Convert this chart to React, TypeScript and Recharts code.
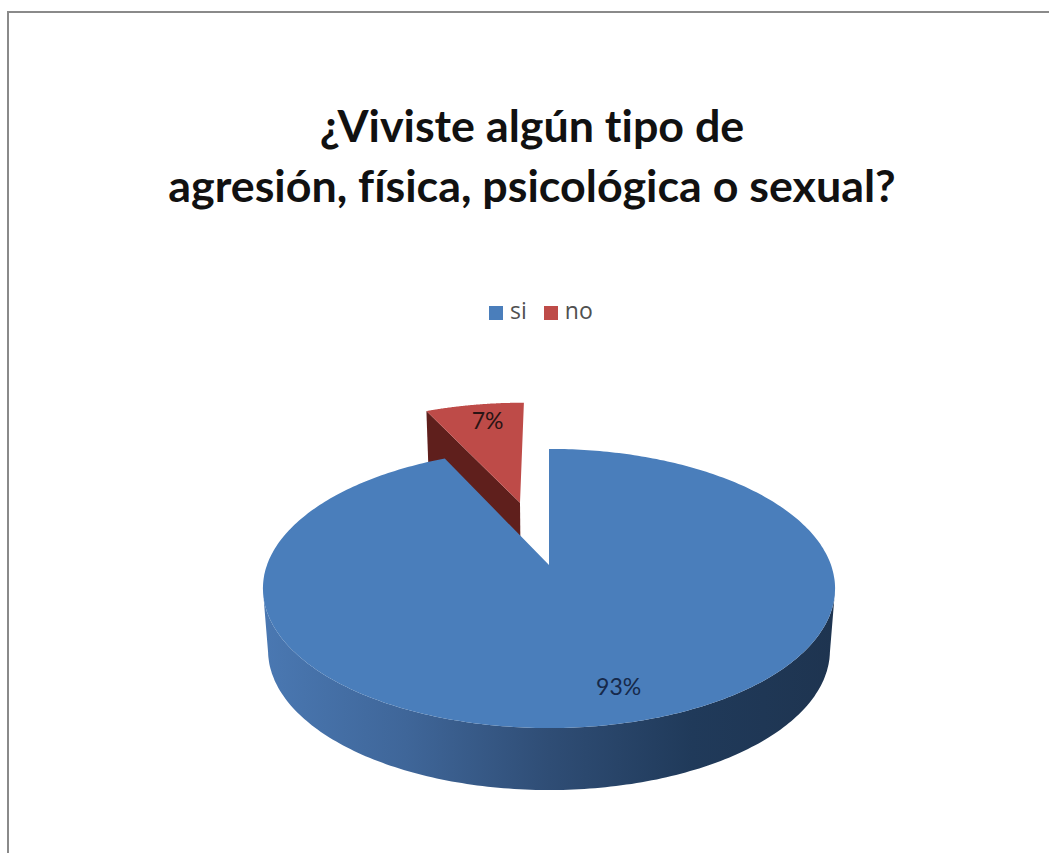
import { Cell, Legend, Pie, PieChart } from "recharts";

const categories = ["si", "no"];
const shares = [93, 7];
const colors = ["#4a7ebb", "#be4b48"];
const titleLines = ["¿Viviste algún tipo de", "agresión, física, psicológica o sexual?"];

// "no" goes first so that the big slice paints over its side wall
const pieData = [
  { name: categories[1], value: shares[1], fill: colors[1] },
  { name: categories[0], value: shares[0], fill: colors[0] },
];
const startAngle = 90 + (360 * shares[1]) / (shares[0] + shares[1]);

// perspective of the tilted disc
const TILT = 0.481;
const DEPTH = 0.168;
const THICKNESS = 62;
const BOTTOM_SCALE = 0.982;
const EXPLODE_NO = 0.51;
const RAD = Math.PI / 180;

type Pt = { x: number; y: number };

function project(cx: number, cy: number, r: number, u: number, v: number): Pt {
  const d = 1 + DEPTH * v;
  return { x: cx + (r * u) / d, y: cy - (r * TILT * v) / d };
}

function slicePoint(props: any, angle: number, f: number) {
  const { cx, cy, outerRadius, midAngle, name } = props;
  const e = name === categories[1] ? EXPLODE_NO : 0;
  const u = e * Math.cos(midAngle * RAD) + f * Math.cos(angle * RAD);
  const v = e * Math.sin(midAngle * RAD) + f * Math.sin(angle * RAD);
  return project(cx, cy, outerRadius, u, v);
}

function lower(p: Pt, cx: number): Pt {
  return { x: cx + (p.x - cx) * BOTTOM_SCALE, y: p.y + THICKNESS };
}

const toPath = (pts: Pt[]) =>
  pts.map((p, i) => `${i ? "L" : "M"}${p.x.toFixed(1)} ${p.y.toFixed(1)}`).join(" ") + " Z";

function DiscSlice(props: any) {
  const { startAngle: a0, endAngle: a1, fill, name, cx } = props;
  const arc: Pt[] = [];
  const front: Pt[] = [];
  for (let i = 0; i <= 360; i++) {
    const a = a0 + ((a1 - a0) * i) / 360;
    const p = slicePoint(props, a, 1);
    arc.push(p);
    // only the part of the rim that faces the viewer
    if (Math.sin(a * RAD) < -DEPTH) front.push(p);
  }
  const apex = slicePoint(props, a0, 0);
  const isNo = name === categories[1];
  // red slice shows its cut side, blue one shows the rim
  const wall = isNo
    ? [apex, arc[0], lower(arc[0], cx), lower(apex, cx)]
    : [...front, ...front.map((p) => lower(p, cx)).reverse()];
  return (
    <g>
      <path d={toPath(wall)} fill={isNo ? "#5f1f1c" : "url(#rimBlue)"} />
      <path d={toPath([apex, ...arc])} fill={fill} />
    </g>
  );
}

function percentLabel(props: any) {
  const { name, midAngle, value } = props;
  const isNo = name === categories[1];
  const p = slicePoint(props, midAngle, isNo ? 0.85 : 0.8);
  return (
    <text
      x={p.x + (isNo ? 7 : 13)}
      y={p.y + (isNo ? 2 : -1)}
      textAnchor="middle"
      dominantBaseline="central"
      fontFamily="Lato"
      fontSize={23}
      fill={isNo ? "#2a1414" : "#16294a"}
    >
      {value}%
    </text>
  );
}

export default function App() {
  return (
    <div style={{ position: "absolute", left: 0, top: 0, width: 1049, height: 853, overflow: "hidden", background: "#fff" }}>
      <div
        style={{
          position: "absolute",
          left: 7,
          top: 11,
          right: 0,
          bottom: 0,
          borderLeft: "2px solid #8a8a8a",
          borderTop: "2px solid #8a8a8a",
        }}
      />
      <PieChart width={1049} height={853} margin={{ top: 0, right: 0, bottom: 0, left: 0 }} style={{ position: "absolute" }}>
        <defs>
          <linearGradient id="rimBlue" x1="0" y1="0" x2="1" y2="0">
            <stop offset="0%" stopColor="#4a78b2" />
            <stop offset="25%" stopColor="#3f6699" />
            <stop offset="50%" stopColor="#2f4d75" />
            <stop offset="75%" stopColor="#203a5a" />
            <stop offset="100%" stopColor="#1e3450" />
          </linearGradient>
        </defs>
        {titleLines.map((line, i) => (
          <text
            key={line}
            x={532}
            y={125 + i * 60}
            textAnchor="middle"
            dominantBaseline="central"
            fontFamily="Lato"
            fontWeight={700}
            fontSize={44.8}
            fill="#111"
            style={{ fontVariantLigatures: "none" }}
          >
            {line}
          </text>
        ))}
        <Legend
          verticalAlign="top"
          align="left"
          iconType="square"
          iconSize={14}
          itemSorter={(item: any) => categories.indexOf(item.value)}
          wrapperStyle={{ top: 294, left: 489, width: 140, fontFamily: "Open Sans", fontSize: 23 }}
          formatter={(value: string) => (
            <span style={{ color: "#505050", marginLeft: 3, marginRight: 7 }}>{value}</span>
          )}
        />
        <Pie
          data={pieData}
          dataKey="value"
          nameKey="name"
          cx={549}
          cy={533}
          innerRadius={0}
          outerRadius={282}
          startAngle={startAngle}
          endAngle={startAngle - 360}
          paddingAngle={0}
          stroke="none"
          shape={DiscSlice}
          label={percentLabel}
          labelLine={false}
          legendType="square"
          isAnimationActive={false}
        >
          {pieData.map((d) => (
            <Cell key={d.name} fill={d.fill} />
          ))}
        </Pie>
      </PieChart>
    </div>
  );
}
